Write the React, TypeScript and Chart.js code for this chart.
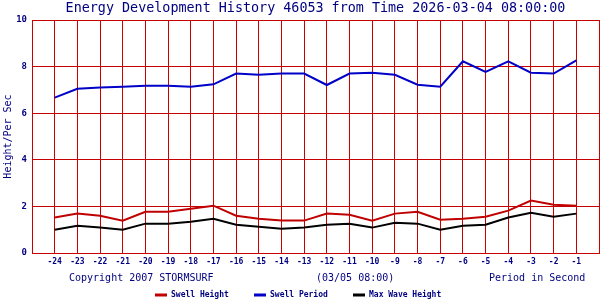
import React, { useEffect, useRef } from "react";
import { Chart, registerables } from "chart.js";

Chart.register(...registerables);

const hours = [-24, -23, -22, -21, -20, -19, -18, -17, -16, -15, -14, -13, -12, -11, -10, -9, -8, -7, -6, -5, -4, -3, -2, -1];
const swellHeight = [1.52, 1.69, 1.6, 1.39, 1.77, 1.77, 1.9, 2.03, 1.6, 1.47, 1.39, 1.39, 1.69, 1.64, 1.39, 1.69, 1.77, 1.43, 1.47, 1.56, 1.82, 2.25, 2.07, 2.03];
const swellPeriod = [6.67, 7.05, 7.1, 7.14, 7.18, 7.18, 7.14, 7.24, 7.7, 7.65, 7.7, 7.7, 7.21, 7.7, 7.74, 7.65, 7.22, 7.14, 8.23, 7.77, 8.23, 7.74, 7.7, 8.27];
const maxWaveHeight = [1.0, 1.17, 1.09, 1.0, 1.26, 1.26, 1.34, 1.47, 1.21, 1.13, 1.04, 1.09, 1.21, 1.26, 1.09, 1.3, 1.26, 1.0, 1.17, 1.21, 1.52, 1.73, 1.56, 1.69];

const titleText = "Energy Development History 46053 from Time 2026-03-04 08:00:00";
const yTitle = "Height/Per Sec";
const footLeft = "Copyright 2007 STORMSURF";
const footMid = "(03/05 08:00)";
const footRight = "Period in Second";

const NAVY = "#000080";
const GRID = "#c80000";
const MONO = "'DejaVu Sans Mono', monospace";

const series = [
  { label: "Swell Height", data: swellHeight, color: "#c00000" },
  { label: "Swell Period", data: swellPeriod, color: "#0000c8" },
  { label: "Max Wave Height", data: maxWaveHeight, color: "#000000" },
];

const textPlugin = {
  id: "texts",
  afterDraw(chart: any) {
    const ctx = chart.ctx;
    const area = chart.chartArea;
    ctx.save();
    ctx.fillStyle = NAVY;
    ctx.textBaseline = "middle";
    ctx.font = `13.4px ${MONO}`;
    ctx.textAlign = "center";
    ctx.fillText(titleText, (area.left + area.right) / 2, 9);

    ctx.save();
    ctx.font = `10px ${MONO}`;
    ctx.translate(8, (area.top + area.bottom) / 2);
    ctx.rotate(-Math.PI / 2);
    ctx.fillText(yTitle, 0, 0);
    ctx.restore();

    ctx.font = `10px ${MONO}`;
    ctx.textAlign = "left";
    ctx.fillText(footLeft, 69, 278);
    ctx.fillText(footMid, 316, 278);
    ctx.fillText(footRight, 489, 278);

    const legendX = [155, 254, 353];
    ctx.font = `bold 8px ${MONO}`;
    series.forEach((s, i) => {
      const x = legendX[i];
      ctx.strokeStyle = s.color;
      ctx.lineWidth = 3;
      ctx.beginPath();
      ctx.moveTo(x, 295);
      ctx.lineTo(x + 12, 295);
      ctx.stroke();
      ctx.fillStyle = NAVY;
      ctx.fillText(s.label, x + 16, 295);
    });
    ctx.restore();
  },
};

export default function App() {
  const ref = useRef<HTMLCanvasElement>(null);
  useEffect(() => {
    document.body.style.margin = "0";
    const chart = new Chart(ref.current!, {
      type: "line",
      data: {
        datasets: series.map((s) => ({
          label: s.label,
          data: hours.map((h, i) => ({ x: h, y: s.data[i] })),
          borderColor: s.color,
          backgroundColor: s.color,
          borderWidth: 2,
          pointRadius: 0,
          tension: 0,
          fill: false,
        })),
      },
      options: {
        animation: false,
        responsive: false,
        maintainAspectRatio: false,
        layout: { padding: { top: 20, right: 1, left: 0, bottom: 0 } },
        plugins: { legend: { display: false }, title: { display: false }, tooltip: { enabled: false } },
        scales: {
          x: {
            type: "linear",
            min: -25,
            max: 0,
            afterFit: (s: any) => { s.height = 47; s.paddingLeft = 0; s.paddingRight = 0; },
            afterBuildTicks: (s: any) => {
              const t = [];
              for (let v = -25; v <= 0; v++) t.push({ value: v });
              s.ticks = t;
            },
            ticks: {
              autoSkip: false,
              maxRotation: 0,
              padding: 4,
              color: NAVY,
              font: { family: MONO, size: 8, weight: "bold" },
              callback: (v: any) => (v === -25 || v === 0 ? "" : String(v)),
            },
            grid: { color: GRID, lineWidth: 1, drawTicks: false },
            border: { color: GRID, width: 1 },
          },
          y: {
            min: 0,
            max: 10,
            afterFit: (s: any) => { s.width = 32; s.paddingTop = 0; s.paddingBottom = 0; },
            ticks: {
              stepSize: 2,
              padding: 5,
              color: NAVY,
              font: { family: MONO, size: 9, weight: "bold" },
            },
            grid: { color: GRID, lineWidth: 1, drawTicks: false },
            border: { color: GRID, width: 1 },
          },
        },
      },
      plugins: [textPlugin],
    });
    return () => chart.destroy();
  }, []);
  return <canvas ref={ref} width={600} height={300} style={{ display: "block" }} />;
}
